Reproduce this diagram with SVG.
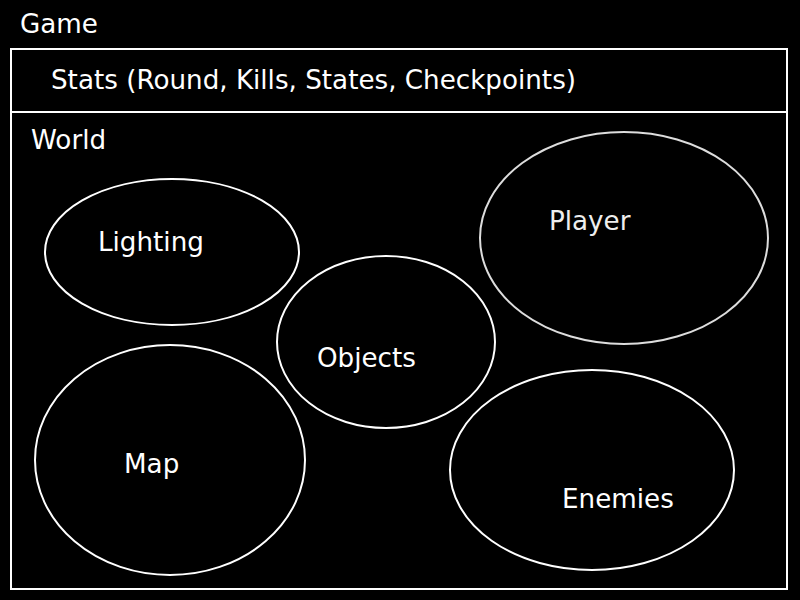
<svg xmlns="http://www.w3.org/2000/svg" width="800" height="600" viewBox="0 0 800 600">
<style>
text{font-family:"DejaVu Sans",sans-serif;font-size:26.2px;fill:#fff}
.s{fill:none;stroke:#fff;stroke-width:2}
</style>
<rect width="800" height="600" fill="#000"/>
<g id="game">
<text x="20" y="33">Game</text>
<rect class="s" x="11" y="49" width="776" height="540"/>
</g>
<g id="stats">
<line class="s" x1="11" y1="112" x2="787" y2="112"/>
<text x="51" y="89">Stats (Round, Kills, States, Checkpoints)</text>
</g>
<g id="world"><text x="31" y="149">World</text></g>
<g id="lighting"><ellipse class="s" cx="172" cy="252" rx="127" ry="73"/><text x="98" y="251">Lighting</text></g>
<g id="objects"><ellipse class="s" cx="386" cy="342" rx="109" ry="86"/><text x="317" y="367">Objects</text></g>
<g id="player"><ellipse class="s" cx="624" cy="238" rx="144" ry="106" style="stroke:#ddd"/><text x="549" y="230" style="fill:#eee">Player</text></g>
<g id="map"><ellipse class="s" cx="170" cy="460" rx="135" ry="115"/><text x="124" y="473">Map</text></g>
<g id="enemies"><ellipse class="s" cx="592" cy="470" rx="142" ry="100"/><text x="562" y="508">Enemies</text></g>
<g id="connectors"/>
</svg>
